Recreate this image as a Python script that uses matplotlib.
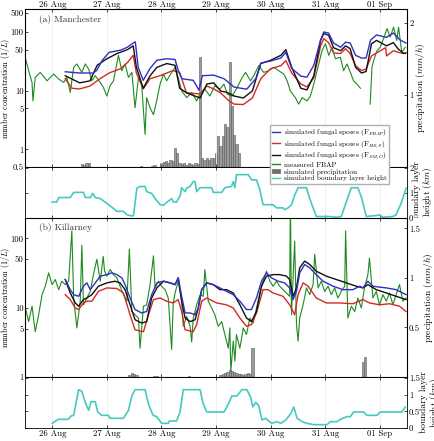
import numpy as np
import matplotlib
matplotlib.use('Agg')
import matplotlib.pyplot as plt
import matplotlib.dates as mdates
import matplotlib.ticker as mticker
from matplotlib.patches import Patch
from matplotlib.lines import Line2D
from matplotlib.transforms import Bbox, TransformedBbox
import datetime as dt

plt.rcParams['font.family'] = ['cmr10', 'DejaVu Serif']
plt.rcParams['mathtext.fontset'] = 'cm'
plt.rcParams['axes.unicode_minus'] = False

# ---------------- data (hours after 26 Aug 00:00, value) ----------------
day_ticks_h = [0, 24, 48, 72, 96, 120, 144]

# (a) Manchester
blue_a = [(5.7, 21), (12, 20), (18, 20), (19.5, 22), (22, 33), (25, 45), (30, 49), (33, 55), (35.6, 65),
          (36.5, 68), (37.8, 25), (40, 15), (43, 24), (46, 33), (50.4, 35), (54, 34), (55.4, 22), (57, 16),
          (62, 15), (64.5, 10.2), (66, 18), (71, 18.4), (75.5, 16), (80, 11.5), (85.5, 10.6), (89.5, 16),
          (91.7, 29.5), (96, 32), (100.5, 36), (102.7, 45), (105.3, 24), (109.3, 17.7), (112, 17), (115, 27),
          (118, 73), (119.4, 100), (121.5, 96), (123.7, 65), (126.8, 55), (129, 67), (131, 65), (133.4, 40),
          (136, 36), (138, 36), (140, 73), (142.6, 89), (147, 81), (150, 96), (153, 73), (155.5, 65)]
red_a = [(5.7, 16), (8.6, 11), (12, 10.7), (16.6, 12), (21, 16), (25, 20), (30, 23.7), (33, 30), (35.6, 40),
         (37, 20), (40, 10.7), (43, 16), (47.4, 18), (53, 22), (56, 20.5), (59, 9.2), (65, 8.8), (68, 12),
         (71, 10.7), (74, 9.2), (77.7, 6.7), (80, 5.9), (84, 5.8), (88, 7.5), (91.7, 16), (96, 23.7),
         (100.5, 26.6), (102.7, 32.5), (105.3, 20), (109.3, 13), (112, 11.6), (115, 16.6), (118, 58),
         (119.4, 77), (121.5, 66), (123.7, 44), (126.8, 43), (129, 52), (131, 43), (133.4, 26.6), (136, 22),
         (138, 23.4), (140.4, 39), (142.6, 44), (146.6, 54), (147, 39), (150, 48), (153, 44), (155.3, 43)]
black_a = [(5.7, 18), (12, 13.6), (16.6, 14.7), (19.7, 27), (24, 35), (28.5, 43), (33, 50), (35.6, 58),
           (37, 25), (40, 11), (43, 18), (46, 25), (50.4, 29), (54, 27), (56, 11), (59, 9.2), (65, 7.5),
           (68, 13), (71, 13.6), (74, 9.9), (77, 9.3), (80, 8.1), (84, 7.5), (88, 9.9), (91.7, 29), (96, 33),
           (100.5, 40), (102.7, 50), (105.3, 25), (109.3, 11), (112, 10.3), (115, 18), (118, 72), (119.4, 94),
           (121.5, 88), (123.7, 54), (126.8, 48), (129, 58), (131, 52), (133.4, 25), (136, 20), (138, 21.2),
           (140.4, 63), (142.6, 72), (147, 58), (150, 66), (152, 52), (154.5, 43), (155.5, 44)]
green_a = [(-11.9, 37), (-10.4, 21.9), (-8.9, 13.8), (-8.5, 6.7), (-7.5, 16.8), (-5.3, 20.5), (-2.3, 14.7),
           (0.6, 19.2), (2.8, 15.8), (5.0, 13.8), (6.4, 16.8), (7.9, 9.3), (9.4, 25), (10.8, 28.5), (13.0, 20.5),
           (14.5, 28.5), (16.0, 23.4), (17.4, 14.7), (18.9, 18), (21.1, 13.8), (22.5, 11.3), (24.0, 8.1),
           (25.4, 12.1), (26.9, 14.7), (29.1, 40), (30.6, 21.9), (32.0, 28.5), (33.5, 16.8), (35.0, 20.5),
           (36.4, 5.1), (37.9, 16.8), (39.3, 12.9), (40.8, 1.8), (41.5, 7.6), (43.0, 5.1), (44.5, 3.9),
           (45.9, 6.7), (47.4, 12.9), (48.9, 19.2), (50.3, 14.7), (52.5, 20.5), (54.0, 25), (55.4, 16.8),
           (56.9, 9.9), (59.1, 7.6), (61.3, 9.3), (63.5, 6.7), (64.9, 8.7), (67.1, 10.6), (69.3, 8.1),
           (71.5, 12.1), (73.7, 10.6), (75.5, 12.9), (77.0, 8.7), (79.1, 8.1), (81.3, 11.3), (83.5, 16.8),
           (85.0, 20.5), (87.2, 14.7), (88.6, 18), (90.8, 26.7), (93.0, 20.5), (95.2, 21.9), (97.4, 25),
           (99.6, 21.9), (101.8, 19.2), (103.3, 14.7), (104.7, 9.9), (106.9, 7.6), (108.4, 5.9), (109.9, 7.6),
           (112.0, 6.7), (113.5, 8.1), (115.0, 12.9), (117.2, 28.5), (118.6, 48), (120.1, 63), (121.6, 40),
           (123.0, 55), (124.5, 35), (126.7, 37), (128.1, 21.9), (129.6, 28.5), (131.1, 20.5), (132.5, 14.7),
           (134.0, 12.9), (135.5, 11), (137.0, np.nan), (139.8, 5.9), (140.6, 25), (141.3, 32.5), (142.8, 48),
           (144.2, 55), (145.7, 77), (147.2, 134), (148.6, 82), (150.1, 150), (151.5, 72), (152.3, 150),
           (153.7, 45), (155.2, 55)]
precip_a = [(13, 0.04), (14, 0.03), (15, 0.05), (16, 0.06), (39, 0.01), (44, 0.02), (45, 0.03), (48, 0.05),
            (49, 0.07), (50, 0.08), (51, 0.06), (52, 0.1), (53, 0.08), (54, 0.27), (55, 0.2), (56, 0.05),
            (57, 0.04), (58, 0.06), (59, 0.03), (60, 0.05), (61, 0.04), (62, 0.03), (63, 0.05), (64, 0.04),
            (65, 1.53), (66, 0.13), (67, 0.1), (68, 0.12), (69, 0.1), (70, 0.12), (71, 0.13), (72, 0.2),
            (73, 0.43), (74, 0.29), (75, 0.43), (76, 0.6), (77, 0.55), (78, 1.45), (79, 0.85), (80, 0.45),
            (81, 0.32), (82, 0.2)]
blh_a = [(-0.1, 0.63), (2, 0.63), (2.8, 0.81), (7.9, 0.81), (9.4, 1.02), (13.7, 1.02), (14.5, 0.81),
         (16.7, 0.81), (17.8, 0.98), (18.9, 0.81), (21.1, 0.77), (24, 0.57), (27, 0.36), (28.4, 0.25),
         (31.3, 0.25), (32.8, 0.11), (35, 0.06), (35.7, 0.08), (37.2, 1.19), (38.6, 1.26), (40.8, 1.26),
         (41.5, 1.05), (43.7, 0.98), (45.2, 0.77), (47.4, 0.52), (48.9, 0.5), (50.3, 0.61), (52.5, 0.77),
         (53.2, 0.63), (54.7, 0.63), (56.2, 0.88), (56.9, 1.21), (58.4, 1.05), (59.1, 1.19), (60.6, 1.26),
         (62, 1.46), (62.8, 1.46), (63.5, 1.05), (65, 1.21), (70.1, 1.21), (70.8, 1.02), (74.5, 1.02),
         (75.9, 1.21), (78.8, 1.26), (79.6, 1.46), (80.3, 1.21), (81, 1.74), (86.2, 1.74), (87.6, 1.53),
         (89.8, 1.53), (91.3, 1.12), (92.7, 0.52), (97.1, 0.52), (98.6, 0.39), (101.5, 0.39), (102.2, 0.32),
         (103.7, 0.39), (105.2, 0.52), (106.6, 0.91), (108.1, 1.21), (111.8, 1.21), (113.2, 0.77),
         (116.1, 0.04), (122, 0.04), (124.9, 0.01), (127.1, 0.04), (129.3, 0.63), (131.5, 1.21), (134.4, 1.21),
         (135.9, 0.84), (138.1, 0.04), (142.5, 0.08), (143.9, 0.11), (145.4, 0.01), (149.8, 0.04),
         (151.2, 0.11), (153.4, 0.57), (155.6, 1.19)]

# (b) Killarney
blue_b = [(5.7, 25.5), (7.9, 18.2), (9.4, 15.4), (11.6, 14.6), (13.7, 20.4), (15.2, 22.8), (16.7, 18.2),
          (18.9, 22.8), (21.1, 28.5), (24, 30), (26.2, 31.8), (28.4, 30), (30.6, 26.9), (32, 21.5), (34.2, 13.8),
          (36.4, 9.4), (39.3, 8.4), (41.5, 8.8), (43.7, 15.4), (46, 22.8), (48.9, 24.1), (51.8, 22.8), (54, 21.5),
          (55.4, 26.9), (56.9, 14.6), (58.4, 8.4), (60.6, 8.4), (62.8, 7.9), (64.2, 9.9), (65.7, 18.2),
          (67.9, 22.8), (70.8, 21.5), (73.7, 19.3), (76.6, 17.2), (79.6, 15.4), (82.5, 12.4), (85.4, 9.4),
          (87.6, 9.4), (89.8, 13.8), (92, 24.1), (94.2, 31.8), (96.4, 26.9), (99.3, 24.1), (102.2, 22.8),
          (104.4, 19.3), (105.9, 13.1), (107.4, 17.2), (108.8, 31.8), (111, 42), (113.2, 37.6), (116.1, 30),
          (119.1, 24.1), (123.5, 20.4), (127.8, 18.2), (132.2, 18.2), (135.2, 20.4), (136.6, 19.3),
          (138.8, 24.1), (141, 20.4), (143.9, 19.8), (146.9, 19.3), (151.2, 18.2), (155.6, 15.4)]
red_b = [(5.7, 15.4), (7.9, 13.1), (10.1, 9.9), (11.6, 9.4), (13.7, 11.7), (15.2, 12.4), (17.4, 12.4),
         (20.3, 17.2), (24, 19.3), (28.4, 18.9), (31.3, 16.3), (34.2, 7.9), (36.4, 4.8), (40.1, 4.5), (42.3, 7.9),
         (44.5, 13.1), (47.4, 13.8), (50.3, 12.4), (53.2, 11.7), (55.4, 13.1), (56.9, 8.8), (58.4, 4.8), (62, 4.5),
         (63.5, 5.7), (65.7, 12.4), (67.9, 13.8), (72.3, 11.7), (76.6, 11), (79.6, 9.9), (82.5, 7.1), (85.4, 5.4),
         (87.6, 5.7), (89.8, 8.4), (92.7, 18.2), (94.9, 18.2), (97.1, 16.3), (101.5, 14.6), (104.4, 11),
         (106.6, 7.9), (108.1, 15.4), (110.3, 22.8), (112.5, 20.4), (116.1, 13.8), (120.5, 11.7), (126.4, 11.7),
         (132.2, 11.4), (136.6, 13.1), (139.5, 11.7), (143.9, 11), (148.3, 11.4), (152.7, 10.5), (155.6, 8.8)]
black_b = [(5.7, 25.5), (7.9, 16.3), (10.1, 11.7), (11.6, 10.5), (13.7, 13.1), (15.2, 13.8), (17.4, 15.4),
           (20.3, 20.4), (24, 22.8), (27.6, 24.1), (29.8, 22.8), (32, 18.2), (34.2, 11), (36.4, 6.7), (39.3, 6),
           (41.5, 6.3), (43.7, 13.8), (46, 19.3), (48.9, 24.1), (51.8, 22.8), (54, 21.5), (55.4, 26.9),
           (56.9, 12.4), (58.4, 7.1), (60.6, 6.3), (62.8, 6.7), (64.2, 9.9), (65.7, 18.2), (67.9, 22.8),
           (70.8, 21.5), (73.7, 18.2), (76.6, 18.2), (79.6, 16.3), (82.5, 11), (85.4, 7.1), (87.6, 6.3),
           (89.8, 8.8), (92, 20.4), (94.2, 28.5), (97.1, 30), (100, 30), (103, 28.5), (104.4, 25.5), (105.9, 14.6),
           (107.4, 19.3), (108.8, 37.6), (111, 47), (113.2, 42), (116.1, 33.6), (120.5, 28.5), (124.9, 25.5),
           (129.3, 22.8), (133.7, 20.4), (136.6, 19.3), (138.8, 21.5), (142.5, 18.2), (146.9, 16.3),
           (151.2, 14.6), (155.6, 13.1)]
green_b = [(-11.8, 9.9), (-10.4, 6.3), (-8.9, 10.5), (-7.5, 4.5), (-6, 7.9), (-4.5, 15.4), (-3.1, 20.4),
           (-1.6, 31.8), (-0.1, 21.5), (1.3, 25.5), (2.8, 18.2), (4.2, 24.1), (5.7, 21.5), (7.2, 24.1), (8.6, 128),
           (9.4, 13.8), (10.8, 5.1), (12.3, 12.4), (13, 80), (13.7, 11), (15.2, 13.8), (16.7, 17.2), (18.1, 30),
           (19.6, 50), (21.1, 24.1), (22.4, 55), (23, 33.6), (24, 28.5), (25.5, 35.5), (26.9, 30), (28.4, 26.9),
           (29.8, 20.4), (31.3, 15.4), (32.8, 12.4), (33.9, 70), (35, 8.8), (36.4, 7.9), (37.9, 7.1), (38.6, 2.6),
           (40.1, 10.5), (41.5, 11), (43, 21.5), (44.5, 56), (45.2, 19.3), (46.7, 24.1), (48.1, 20.4),
           (49.6, 18.2), (51, 13.8), (52.5, 2.5), (53.2, 11.7), (54, 16.3), (55.4, 24.1), (56.9, 12.4),
           (57.6, 5.4), (59.1, 7.5), (60.6, 5.4), (61.3, 3.2), (62, 7.1), (63.5, 11), (65, 15.4), (66.4, 14.6),
           (67.1, 35.5), (68.6, 12.4), (70.1, 9.9), (71.5, 7.9), (73, 5.4), (74.5, 6.3), (75.9, 4.1), (77.4, 2.6),
           (78.1, 5.1), (78.5, 1.2), (79.6, 3.3), (80.3, 1.7), (81, 4.1), (82.5, 2.6), (84, 5.1), (85.4, 4.1),
           (86.9, 7.1), (88.3, 6), (89.8, 9.9), (91.3, 16.3), (92.7, 24.1), (94.2, 33.6), (95.7, 24.1),
           (97.1, 20.4), (98.6, 24.1), (100, 20.4), (101.5, 18.2), (103, 16.3), (104.4, 14.6), (104.7, 400),
           (105.2, 7.9), (106.6, 91), (107.4, 5.7), (108.1, 3.3), (108.8, 7.1), (110.3, 11), (111.8, 19.3),
           (113.2, 15.4), (114.7, 21.5), (115.4, 59), (116.9, 19.3), (118.3, 24.1), (119.8, 17.2), (121.3, 20.4),
           (122.7, 15.4), (124.2, 19.3), (125.6, 13.8), (127.1, 17.2), (128.6, 20.4), (129, 128), (130, 7.1),
           (131.5, 10.5), (133, 8.8), (134.4, 13.8), (135.9, 9.9), (137.3, 19.3), (138.8, 30), (139.5, 52),
           (141, 13.8), (142.5, 17.2), (143.9, 11), (145.4, 15.4), (146.9, 12.4), (148.3, 16.3), (149.8, 11),
           (151.2, 15.4), (152.7, 21.5), (154.2, 12.4), (155.6, 13.8)]
precip_b = [(34, 0.02), (35, 0.04), (36, 0.03), (37, 0.02), (45, 0.01), (46, 0.015), (60, 0.01), (74, 0.02),
            (75, 0.03), (76, 0.04), (77, 0.05), (78, 0.07), (79, 0.06), (80, 0.05), (81, 0.04), (82, 0.03),
            (83, 0.03), (84, 0.02), (85, 0.03), (86, 0.04), (87, 0.03), (88, 0.29), (136.5, 0.15), (137.5, 0.2)]
blh_b = [(0, 0.14), (1, 0.19), (2.7, 0.26), (7, 0.26), (8.3, 0.36), (9.4, 0.38), (11.6, 1.15), (13, 1.1),
         (14.5, 0.77), (16, 0.53), (17, 0.79), (18.9, 0.79), (20, 0.48), (21.8, 0.38), (24.7, 0.38), (25.4, 0.29),
         (31.3, 0.29), (33.5, 0.53), (35, 0.96), (36.4, 1.15), (40.8, 1.15), (42.3, 0.72), (44.3, 0.38),
         (45.9, 0.34), (48.1, 0.14), (51, 0.14), (51.5, 0.21), (54.7, 0.21), (56.2, 0.48), (57.6, 1.15),
         (65, 1.15), (66.2, 0.77), (67.9, 0.48), (75.5, 0.48), (76.8, 0.63), (79, 0.96), (81.2, 0.96),
         (83.4, 1.15), (85.6, 1.15), (87.3, 0.91), (88.2, 0.63), (89.5, 0.77), (90.8, 0.67), (92.2, 0.24),
         (93.9, 0.29), (95.2, 0.21), (96.5, 0.14), (98.7, 0.19), (100.5, 0.14), (102.7, 0.24), (104.9, 0.43),
         (106.2, 0.63), (107.7, 0.29), (109.9, 0.19), (112, 0.14), (115, 0.1), (120.8, 0.1), (122.3, 0.19),
         (125.2, 0.19), (126.7, 0.26), (129.6, 0.34), (131.1, 0.34), (132.5, 0.48), (136.9, 0.48), (138.4, 0.38),
         (142.8, 0.38), (144.2, 0.48), (153.7, 0.48), (155.2, 0.63)]

conc_ticks_a = [0.5, 1, 5, 10, 50, 100, 500]
conc_ticks_b = [1, 5, 10, 50, 100]
precip_ticks_a = [1, 2]
precip_ticks_b = [0.5, 1, 1.5]
blh_ticks_a = [0, 1, 2]
blh_ticks_b = [0, 0.5, 1, 1.5]

legend_labels = [r'simulated fungal spores (F$_{FBAP}$)', r'simulated fungal spores (F$_{HS,S}$)',
                 r'simulated fungal spores (F$_{SM,O}$)', 'measured FBAP', 'simulated precipitation',
                 'simulated boundary layer height']

# ---------------- styling ----------------
BLUE = '#2f2fc4'
RED = '#d42a24'
BLACK = '#111111'
GREEN = '#1f8a1f'
CYAN = '#45c9c0'
BARF = '#9a9a9a'
BARE = '#5a5a5a'
FS = 6.3

BASE = mdates.date2num(dt.datetime(2010, 8, 26))


def tx(h):
    return BASE + np.asarray(h, dtype=float) / 24.0


def unzip(pairs):
    a = np.array(pairs, dtype=float)
    return tx(a[:, 0]), a[:, 1]


K = 27.0 / 58.2


def fwd(v):
    v = np.asarray(v, dtype=float)
    with np.errstate(divide='ignore', invalid='ignore'):
        lv = np.log10(v)
    return np.where(lv <= 2, lv, 2 + (lv - 2) * K)


def inv(u):
    u = np.asarray(u, dtype=float)
    with np.errstate(over='ignore'):
        return np.where(u <= 2, 10.0 ** u, 10.0 ** (2 + (u - 2) / K))


fig = plt.figure(figsize=(4.34, 4.41), dpi=100)
L, W = 25 / 434, 382 / 434


def box(top, bot):
    return [L, 1 - bot / 441, W, (bot - top) / 441]


axA = fig.add_axes(box(9, 167))
axAr = axA.twinx()
axAb = fig.add_axes(box(167, 217.5))
axB = fig.add_axes(box(217.5, 377))
axBr = axB.twinx()
axBb = fig.add_axes(box(377, 428))

xmin, xmax = tx(-12), tx(156)
fmt = mdates.DateFormatter('%d %b')

for ax in (axA, axAb, axB, axBb):
    ax.set_xlim(xmin, xmax)
    ax.xaxis.set_major_locator(mticker.FixedLocator(tx(day_ticks_h)))
    ax.xaxis.set_major_formatter(fmt)
    ax.xaxis.set_minor_locator(mticker.NullLocator())
    ax.grid(axis='x', color='#ececec', lw=0.6)
    ax.tick_params(axis='both', which='both', direction='in', length=2.5, width=0.5, labelsize=FS,
                   top=True, bottom=True, pad=1.5)
    for s in ax.spines.values():
        s.set_linewidth(0.6)
for ax in (axAr, axBr):
    ax.tick_params(axis='y', which='both', direction='in', length=2.5, width=0.5, labelsize=FS, pad=1.5)
    ax.yaxis.set_minor_locator(mticker.NullLocator())
for ax in (axA, axB):
    ax.tick_params(axis='y', pad=1.0)

axA.tick_params(axis='x', labeltop=True, labelbottom=False, pad=0.3)
axAb.tick_params(axis='x', labeltop=False, labelbottom=False)
axB.tick_params(axis='x', labeltop=False, labelbottom=False)
axBb.tick_params(axis='x', labeltop=False, labelbottom=True, pad=1.5)

# layering: lines above bars
for m, r in ((axA, axAr), (axB, axBr)):
    m.set_zorder(r.get_zorder() + 1)
    m.patch.set_visible(False)

gfmt = mticker.FuncFormatter(lambda v, p: f'{v:g}')
LFS = 5.8

# ---- panel (a)
for pairs, col, lw in ((green_a, GREEN, 0.8), (red_a, RED, 1.0), (black_a, BLACK, 1.0), (blue_a, BLUE, 1.0)):
    x, y = unzip(pairs)
    axA.plot(x, y, color=col, lw=lw)
axA.set_yscale('function', functions=(fwd, inv))
axA.set_ylim(0.5, 700)
axA.yaxis.set_major_locator(mticker.FixedLocator(conc_ticks_a))
axA.yaxis.set_major_formatter(gfmt)
axA.yaxis.set_minor_locator(mticker.NullLocator())
axA.set_ylabel(r'number concentration ($1/L$)', fontsize=LFS)
axA.yaxis.set_label_coords(-12.5 / 382, 0.5)
axA.text(14 / 382, 1 - 11 / 158, '(a) Manchester', transform=axA.transAxes, fontsize=FS + 0.5,
         va='center', ha='left', color='#333333')

x, y = unzip(precip_a)
axAr.bar(x, y, width=1 / 24, color=BARF, edgecolor=BARE, lw=0.4)
axAr.set_ylim(0, 2.19)
axAr.yaxis.set_major_locator(mticker.FixedLocator(precip_ticks_a))
axAr.yaxis.set_major_formatter(gfmt)
axAr.set_ylabel(r'precipitation ($mm/h$)', fontsize=FS + 0.5)
axAr.yaxis.set_label_coords(1 + 7 / 382, 0.5)

x, y = unzip(blh_a)
axAb.plot(x, y, color=CYAN, lw=1.2)
axAb.set_ylim(0, 2.05)
axAb.yaxis.set_major_locator(mticker.FixedLocator(blh_ticks_a))
axAb.yaxis.set_major_formatter(gfmt)
axAb.tick_params(axis='y', left=True, right=True, labelleft=False, labelright=True)
axAb.yaxis.set_label_position('right')
axAb.set_ylabel('boundary layer\nheight ($km$)', fontsize=FS + 0.5, linespacing=1.0)
axAb.yaxis.set_label_coords(1 + 6 / 382, 0.5)
lab = axAb.yaxis.label
lab.set_clip_on(True)
lab.set_clip_box(TransformedBbox(Bbox([[0, 1 - 217.5 / 441], [1, 1]]), fig.transFigure))

# ---- panel (b)
for pairs, col, lw in ((green_b, GREEN, 0.8), (red_b, RED, 1.0), (black_b, BLACK, 1.0), (blue_b, BLUE, 1.0)):
    x, y = unzip(pairs)
    axB.plot(x, y, color=col, lw=lw)
axB.set_yscale('log')
axB.set_ylim(1, 200)
axB.yaxis.set_major_locator(mticker.FixedLocator(conc_ticks_b))
axB.yaxis.set_major_formatter(gfmt)
axB.yaxis.set_minor_locator(mticker.NullLocator())
axB.set_ylabel(r'number concentration ($1/L$)', fontsize=LFS)
axB.yaxis.set_label_coords(-12.5 / 382, 0.5)
axB.text(14 / 382, 1 - 9.5 / 159.5, '(b) Killarney', transform=axB.transAxes, fontsize=FS + 0.5,
         va='center', ha='left', color='#333333')

x, y = unzip(precip_b)
axBr.bar(x, y, width=1 / 24, color=BARF, edgecolor=BARE, lw=0.4)
axBr.set_ylim(0, 1.61)
axBr.yaxis.set_major_locator(mticker.FixedLocator(precip_ticks_b))
axBr.yaxis.set_major_formatter(gfmt)
axBr.set_ylabel(r'precipitation ($mm/h$)', fontsize=FS + 0.5)
axBr.yaxis.set_label_coords(1 + 15 / 382, 0.5)

x, y = unzip(blh_b)
axBb.plot(x, y, color=CYAN, lw=1.2)
axBb.set_ylim(0, 1.53)
axBb.yaxis.set_major_locator(mticker.FixedLocator(blh_ticks_b))
axBb.yaxis.set_major_formatter(gfmt)
axBb.tick_params(axis='y', left=True, right=True, labelleft=False, labelright=True)
axBb.yaxis.set_label_position('right')
axBb.set_ylabel('boundary layer\nheight ($km$)', fontsize=FS + 0.5, linespacing=1.0)
axBb.yaxis.set_label_coords(1 + 13 / 382, 0.5)

# ---- legend
handles = [Line2D([], [], color=BLUE, lw=1.0), Line2D([], [], color=RED, lw=1.0),
           Line2D([], [], color=BLACK, lw=1.0), Line2D([], [], color=GREEN, lw=1.0),
           Patch(facecolor='#707070', edgecolor='#505050', lw=0.4), Line2D([], [], color=CYAN, lw=1.0)]
fig.legend(handles, legend_labels, loc='upper left', bbox_to_anchor=(270 / 434, 1 - 125 / 441),
           fontsize=5.2, frameon=True, fancybox=False, edgecolor='#b0b0b0', framealpha=1,
           handlelength=1.1, handleheight=0.6, handletextpad=0.5, labelspacing=0.12, borderpad=0.3,
           borderaxespad=0)

fig.savefig('out.png', dpi=100)
